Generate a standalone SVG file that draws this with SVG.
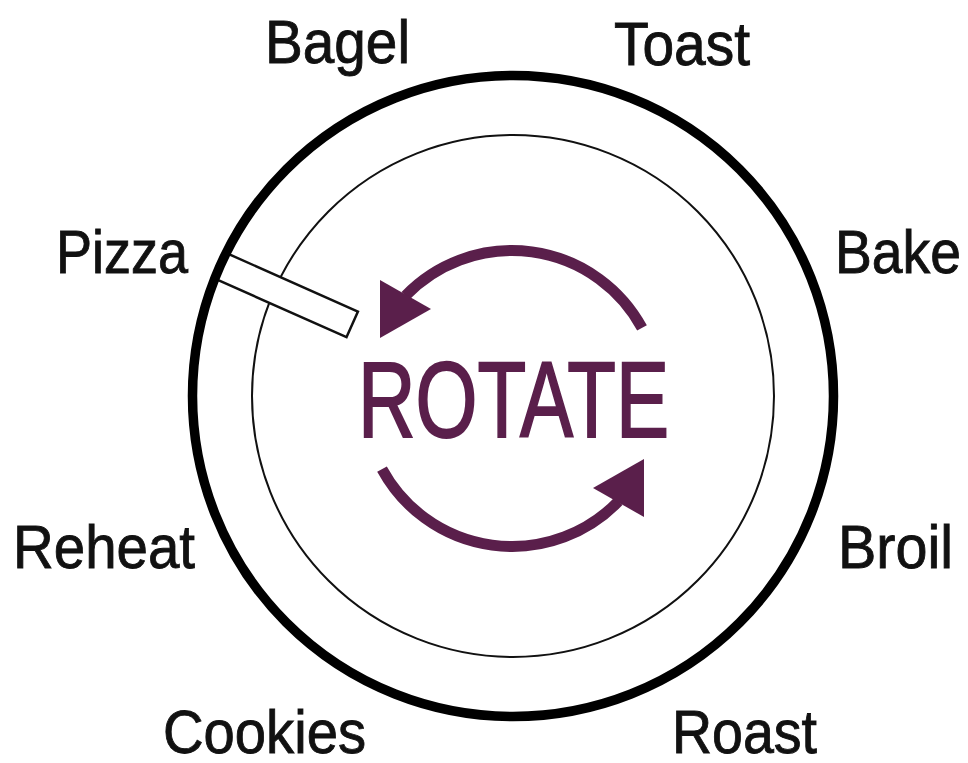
<svg xmlns="http://www.w3.org/2000/svg" width="968" height="763" viewBox="0 0 968 763">
<style>
.lbl{font-family:"Liberation Sans Narrow","Liberation Sans",Arial,sans-serif;font-size:62px;fill:#111;stroke:#111;stroke-width:0.9px;}
.rot{font-family:"Liberation Sans Narrow","Liberation Sans",Arial,sans-serif;font-size:108px;fill:#5a1f4b;stroke:#5a1f4b;stroke-width:2px;}
.arc{fill:none;stroke:#5a1f4b;stroke-width:11;}
.head{fill:#5a1f4b;}
</style>
<rect width="968" height="763" fill="#fff"/>
<g id="dial">
<circle cx="513" cy="396" r="261" fill="none" stroke="#111" stroke-width="2"/>
<rect id="pointer" x="191" y="382" width="146" height="28" fill="#fff" stroke="#111" stroke-width="2.5" transform="rotate(24 513 396)"/>
<circle cx="513" cy="396" r="320.5" fill="none" stroke="#000" stroke-width="9.5"/>
</g>
<g id="connectors">
<path class="arc" d="M642,327.9 A148,148 0 0 0 405.5,295.7"/>
<polygon class="head" points="380,280 431,309 380,338"/>
<path class="arc" d="M382,469.1 A148,148 0 0 0 618.5,501.3"/>
<polygon class="head" points="644,517 593,488 644,459"/>
</g>
<g id="center-label"><text class="rot" x="358" y="437" textLength="311" lengthAdjust="spacingAndGlyphs">ROTATE</text></g>
<g id="bagel"><text class="lbl" x="265" y="63" textLength="145" lengthAdjust="spacingAndGlyphs">Bagel</text></g>
<g id="toast"><text class="lbl" x="614" y="65" textLength="136" lengthAdjust="spacingAndGlyphs">Toast</text></g>
<g id="pizza"><text class="lbl" x="56" y="273" textLength="132" lengthAdjust="spacingAndGlyphs">Pizza</text></g>
<g id="bake"><text class="lbl" x="835" y="273" textLength="126" lengthAdjust="spacingAndGlyphs">Bake</text></g>
<g id="reheat"><text class="lbl" x="13" y="568" textLength="182" lengthAdjust="spacingAndGlyphs">Reheat</text></g>
<g id="broil"><text class="lbl" x="838" y="568" textLength="115" lengthAdjust="spacingAndGlyphs">Broil</text></g>
<g id="cookies"><text class="lbl" x="163" y="753" textLength="203" lengthAdjust="spacingAndGlyphs">Cookies</text></g>
<g id="roast"><text class="lbl" x="672" y="753" textLength="145" lengthAdjust="spacingAndGlyphs">Roast</text></g>
</svg>
